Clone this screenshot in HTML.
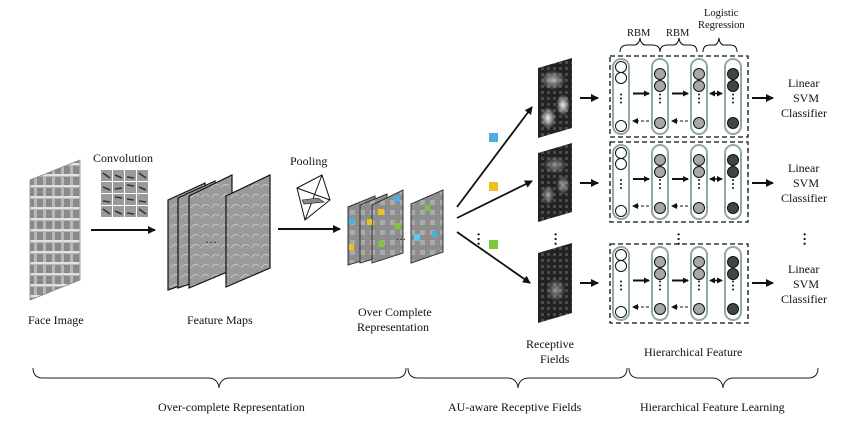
<!DOCTYPE html>
<html><head><meta charset="utf-8"><style>
html,body{margin:0;padding:0;background:#fff}
svg{display:block}
text{font-family:"Liberation Serif",serif;fill:#111}
</style></head><body>
<svg id="s" width="845" height="427" viewBox="0 0 845 427" xmlns="http://www.w3.org/2000/svg">
<defs>
<marker id="ah" markerWidth="8" markerHeight="8" refX="7" refY="4" orient="auto" markerUnits="userSpaceOnUse"><path d="M0,0 L8,4 L0,8 z" fill="#111"/></marker>
<marker id="ah2" markerWidth="6" markerHeight="6" refX="5" refY="3" orient="auto-start-reverse" markerUnits="userSpaceOnUse"><path d="M0,0 L6,3 L0,6 z" fill="#111"/></marker>
<pattern id="grid" width="9" height="11" patternUnits="userSpaceOnUse"><rect width="9" height="11" fill="#b8b8b8"/><rect x="1" y="1" width="6" height="8" fill="#8a8a8a"/><line x1="0" y1="10" x2="9" y2="10" stroke="#fff" stroke-width="1.2"/></pattern>
<radialGradient id="glow"><stop offset="0" stop-color="#eee"/><stop offset="1" stop-color="#eee" stop-opacity="0"/></radialGradient>
<pattern id="rf" width="6" height="6" patternUnits="userSpaceOnUse"><rect width="6" height="6" fill="#222"/><rect x="1" y="1" width="3" height="3" fill="#4a4a4a"/></pattern>
<pattern id="fm" width="10" height="10" patternUnits="userSpaceOnUse"><rect width="10" height="10" fill="#9a9a9a"/><path d="M1,8 Q5,2 9,6" stroke="#c4c4c4" fill="none"/></pattern>
<pattern id="oc" width="10" height="10" patternUnits="userSpaceOnUse"><rect width="10" height="10" fill="#8d8d8d"/><rect x="0" y="0" width="5" height="5" fill="#aaa"/></pattern>
</defs>
<rect width="845" height="427" fill="#fff"/>
<polygon points="30,180 80,160 80,280 30,300" fill="url(#grid)" stroke="#888" stroke-width="0.8"/>
<text x="28" y="324" font-size="12">Face Image</text>
<text x="93" y="162" font-size="12">Convolution</text>
<g id="conv"></g>
<line x1="91" y1="230" x2="155" y2="230" stroke="#111" stroke-width="2" marker-end="url(#ah)"/>
<polygon points="168,200 205,183 205,277 168,290" fill="url(#fm)" stroke="#111" stroke-width="1.2"/>
<polygon points="178,198 215,181 215,275 178,288" fill="url(#fm)" stroke="#111" stroke-width="1.2"/>
<polygon points="189,196 232,175 232,270 189,288" fill="url(#fm)" stroke="#111" stroke-width="1.2"/>
<polygon points="226,196 270,175 270,268 226,287" fill="url(#fm)" stroke="#111" stroke-width="1.2"/>
<text x="205" y="246" font-size="12">···</text>
<text x="187" y="324" font-size="12">Feature Maps</text>
<text x="290" y="165" font-size="12">Pooling</text>
<polygon points="297,188 322,175 330,200 305,220" fill="#fff" stroke="#111"/>
<line x1="322" y1="175" x2="305" y2="220" stroke="#111"/>
<line x1="297" y1="188" x2="330" y2="200" stroke="#111"/>
<polygon points="302,200 318,198 324,202 304,204" fill="#888" stroke="#111" stroke-width="0.6"/>
<line x1="278" y1="229" x2="340" y2="229" stroke="#111" stroke-width="2" marker-end="url(#ah)"/>
<polygon points="348,207 375,196 375,257 348,265" fill="url(#oc)" stroke="#333"/>
<polygon points="360,205 387,194 387,255 360,263" fill="url(#oc)" stroke="#333"/>
<polygon points="372,205 403,190 403,253 372,263" fill="url(#oc)" stroke="#333"/>
<polygon points="411,204 443,190 443,252 411,263" fill="url(#oc)" stroke="#333"/>
<rect x="349" y="218" width="5" height="6" fill="#4ab0e4"/><rect x="349" y="244" width="5" height="6" fill="#f0c020"/>
<rect x="367" y="219" width="5" height="6" fill="#f0c020"/><rect x="394" y="196" width="6" height="6" fill="#4ab0e4"/>
<rect x="378" y="209" width="6" height="6" fill="#f0c020"/><rect x="395" y="223" width="6" height="6" fill="#7cc83a"/>
<rect x="378" y="241" width="6" height="6" fill="#7cc83a"/><rect x="425" y="205" width="5" height="6" fill="#7cc83a"/>
<rect x="414" y="234" width="6" height="7" fill="#5bc8f0"/><rect x="432" y="231" width="5" height="6" fill="#4ab0e4"/>
<text x="396" y="243" font-size="10">···</text>
<text x="358" y="316" font-size="12">Over Complete</text>
<text x="357" y="331" font-size="12">Representation</text>
<line x1="457" y1="207" x2="532" y2="107" stroke="#111" stroke-width="1.8" marker-end="url(#ah)"/>
<line x1="457" y1="218" x2="532" y2="181" stroke="#111" stroke-width="1.8" marker-end="url(#ah)"/>
<line x1="457" y1="232" x2="530" y2="283" stroke="#111" stroke-width="1.8" marker-end="url(#ah)"/>
<rect x="489" y="133" width="9" height="9" fill="#4ab0e4"/>
<rect x="489" y="182" width="9" height="9" fill="#f0c020"/>
<rect x="489" y="240" width="9" height="9" fill="#7cc83a"/>
<text x="474" y="240" font-size="14" font-weight="bold" transform="rotate(90 478 236)">···</text>
<polygon points="538,68 572,58 572,128 538,138" fill="url(#rf)"/>
<polygon points="538,153 572,143 572,212 538,222" fill="url(#rf)"/>
<polygon points="538,253 572,243 572,313 538,323" fill="url(#rf)"/>
<ellipse cx="548" cy="118" rx="8" ry="11" fill="url(#glow)"/><ellipse cx="563" cy="105" rx="7" ry="11" fill="url(#glow)"/>
<ellipse cx="553" cy="80" rx="13" ry="10" fill="url(#glow)" opacity=".7"/>
<ellipse cx="548" cy="195" rx="7" ry="10" fill="url(#glow)" opacity=".6"/><ellipse cx="563" cy="185" rx="7" ry="10" fill="url(#glow)" opacity=".6"/>
<ellipse cx="555" cy="165" rx="12" ry="9" fill="url(#glow)" opacity=".5"/>
<ellipse cx="556" cy="290" rx="10" ry="12" fill="url(#glow)" opacity=".5"/>
<text x="551" y="240" font-size="14" font-weight="bold" transform="rotate(90 555 236)">···</text>
<text x="526" y="348" font-size="12">Receptive</text>
<text x="540" y="363" font-size="12">Fields</text>
<line x1="580" y1="98" x2="598" y2="98" stroke="#111" stroke-width="2" marker-end="url(#ah)"/>
<line x1="580" y1="183" x2="598" y2="183" stroke="#111" stroke-width="2" marker-end="url(#ah)"/>
<line x1="580" y1="283" x2="598" y2="283" stroke="#111" stroke-width="2" marker-end="url(#ah)"/>
<text x="627" y="36" font-size="10.5">RBM</text>
<text x="666" y="36" font-size="10.5">RBM</text>
<text x="704" y="16" font-size="10.5">Logistic</text>
<text x="698" y="28" font-size="10.5">Regression</text>
<path d="M620,52 Q620,45 628,45 L634,45 Q639,45 640,38 Q641,45 646,45 L652,45 Q660,45 660,52" fill="none" stroke="#111"/>
<path d="M660,52 Q660,45 668,45 L673,45 Q678,45 679,38 Q680,45 685,45 L690,45 Q697,45 697,52" fill="none" stroke="#111"/>
<path d="M703,52 Q703,45 710,45 L714,45 Q718,45 719,38 Q720,45 724,45 L730,45 Q737,45 737,52" fill="none" stroke="#111"/>
<g id="net"></g>
<text x="676" y="242" font-size="14" font-weight="bold" transform="rotate(90 680 236)">···</text>
<text x="800" y="240" font-size="14" font-weight="bold" transform="rotate(90 804 236)">···</text>
<g font-size="12">
<text x="788" y="87">Linear</text><text x="793" y="102">SVM</text><text x="781" y="117">Classifier</text>
<text x="788" y="172">Linear</text><text x="793" y="187">SVM</text><text x="781" y="202">Classifier</text>
<text x="788" y="273">Linear</text><text x="793" y="288">SVM</text><text x="781" y="303">Classifier</text>
</g>
<line x1="752" y1="98" x2="773" y2="98" stroke="#111" stroke-width="2" marker-end="url(#ah)"/>
<line x1="752" y1="183" x2="773" y2="183" stroke="#111" stroke-width="2" marker-end="url(#ah)"/>
<line x1="752" y1="283" x2="773" y2="283" stroke="#111" stroke-width="2" marker-end="url(#ah)"/>
<text x="644" y="356" font-size="12">Hierarchical Feature</text>
<path d="M33,368 Q33,378 43,378 L208,378 Q218,378 219,388 Q220,378 230,378 L396,378 Q406,378 406,368" fill="none" stroke="#222"/>
<path d="M408,368 Q408,378 418,378 L507,378 Q517,378 518,388 Q519,378 529,378 L617,378 Q627,378 627,368" fill="none" stroke="#222"/>
<path d="M629,368 Q629,378 639,378 L712,378 Q722,378 723,388 Q724,378 734,378 L808,378 Q818,378 818,368" fill="none" stroke="#222"/>
<text x="158" y="411" font-size="12">Over-complete Representation</text>
<text x="448" y="411" font-size="12">AU-aware Receptive Fields</text>
<text x="640" y="411" font-size="12">Hierarchical Feature Learning</text>
</svg>
<script>
var NS="http://www.w3.org/2000/svg";
function el(p,t,a){var e=document.createElementNS(NS,t);for(var k in a)e.setAttribute(k,a[k]);p.appendChild(e);return e;}
var conv=document.getElementById('conv');
for(var i=0;i<4;i++)for(var j=0;j<4;j++){var x=101+j*12,y=170+i*12;el(conv,'rect',{x:x,y:y,width:11,height:11,fill:'#9a9a9a'});el(conv,'line',{x1:x+2,y1:y+3+((i+j)%3)*2,x2:x+9,y2:y+8-((i*j)%3)*2,stroke:'#333','stroke-width':1.5});}
var net=document.getElementById('net');
[[56,137],[142,222],[244,323]].forEach(function(r){
 var t=r[0],b=r[1];
 el(net,'rect',{x:610,y:t,width:138,height:b-t,fill:'none',stroke:'#111','stroke-width':1.3,'stroke-dasharray':'5,3'});
 var cols=[[621,'#fff',0],[660,'#a8a8a8',1],[699,'#a8a8a8',1],[733,'#444',1]];
 cols.forEach(function(c,k){
  var x=c[0];
  el(net,'rect',{x:x-8,y:t+3,width:16,height:b-t-6,rx:8,fill:'none',stroke:'#8fa8a8','stroke-width':2});
  var ys=k==0?[t+11,t+22,b-11]:[t+18,t+30,b-14];
  ys.forEach(function(y){el(net,'circle',{cx:x,cy:y,r:5.5,fill:c[1],stroke:'#111','stroke-width':1});});
  for(var d=0;d<3;d++)el(net,'circle',{cx:x,cy:(t+b)/2+(d-1)*4+2,r:1,fill:'#111'});
 });
 var m=(t+b)/2;
 el(net,'line',{x1:633,y1:m-3,x2:649,y2:m-3,stroke:'#111','stroke-width':2,'marker-end':'url(#ah2)'});
 el(net,'line',{x1:672,y1:m-3,x2:688,y2:m-3,stroke:'#111','stroke-width':2,'marker-end':'url(#ah2)'});
 el(net,'line',{x1:649,y1:b-16,x2:633,y2:b-16,stroke:'#111','stroke-width':1,'stroke-dasharray':'3,2','marker-end':'url(#ah2)'});
 el(net,'line',{x1:688,y1:b-16,x2:672,y2:b-16,stroke:'#111','stroke-width':1,'stroke-dasharray':'3,2','marker-end':'url(#ah2)'});
 el(net,'line',{x1:710,y1:m-3,x2:722,y2:m-3,stroke:'#111','stroke-width':1.5,'marker-end':'url(#ah2)','marker-start':'url(#ah2)'});
});
</script>
</body></html>
